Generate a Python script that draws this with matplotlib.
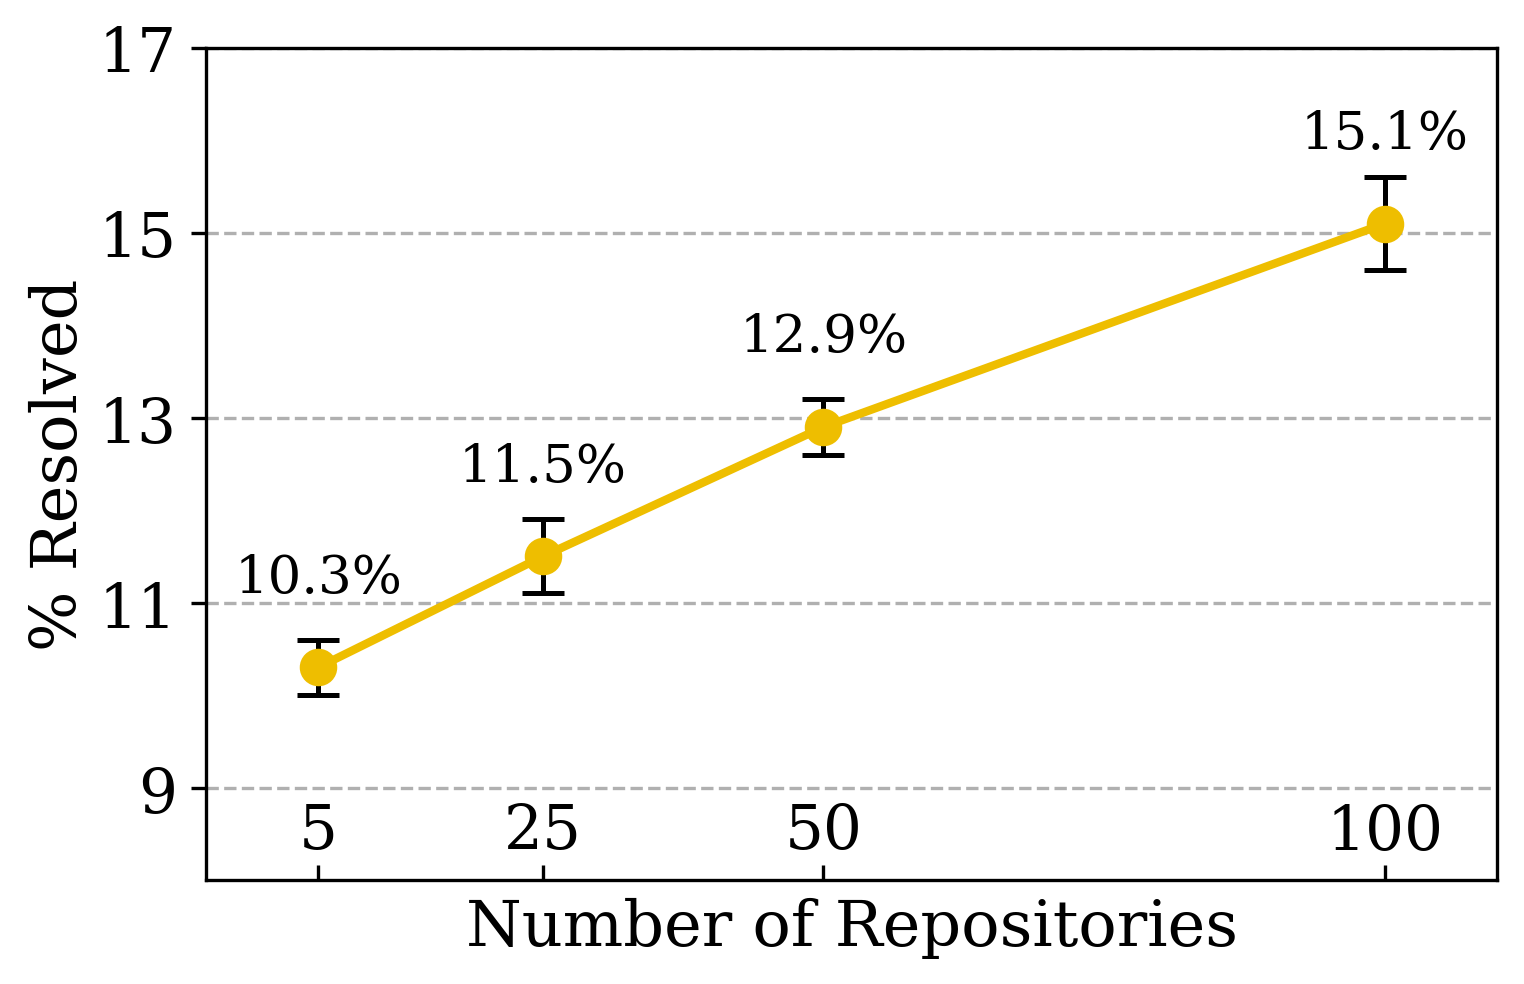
import numpy as np
import matplotlib.pyplot as plt

# data
repos = [5, 25, 50, 100]
resolved = [10.3, 11.5, 12.9, 15.1]
err = [0.3, 0.4, 0.3, 0.5]
labels = ['10.3%', '11.5%', '12.9%', '15.1%']

plt.rcParams['font.family'] = 'DejaVu Serif'

fig = plt.figure(figsize=(5.08, 3.2833), dpi=300)
ax = fig.add_axes([206/1524, 1 - 881/985, (1497-206)/1524, (881-49)/985])

gold = '#EEBE00'
ax.errorbar(repos, resolved, yerr=err, fmt='-o', color=gold, ecolor='black',
            elinewidth=1.2, capsize=5, capthick=1.2, lw=2, markersize=8, zorder=3)

# value labels above each point
for x, y, t in zip(repos, resolved, labels):
    ax.text(x, y + 0.7, t, ha='center', va='bottom', fontsize=12.7)

ax.set_xlim(-5, 110)
ax.set_ylim(8, 17)
ax.set_xticks(repos)
ax.set_yticks([9, 11, 13, 15, 17])
ax.tick_params(axis='x', direction='in', pad=-19, labelsize=14.7)
ax.tick_params(axis='y', labelsize=14.7)
ax.yaxis.grid(True, linestyle='--', color='#b0b0b0', linewidth=0.8)
ax.set_axisbelow(True)

ax.set_xlabel('Number of Repositories', fontsize=15.3)
ax.set_ylabel('% Resolved', fontsize=15.3, labelpad=2)

fig.savefig('out.png', dpi=300)
